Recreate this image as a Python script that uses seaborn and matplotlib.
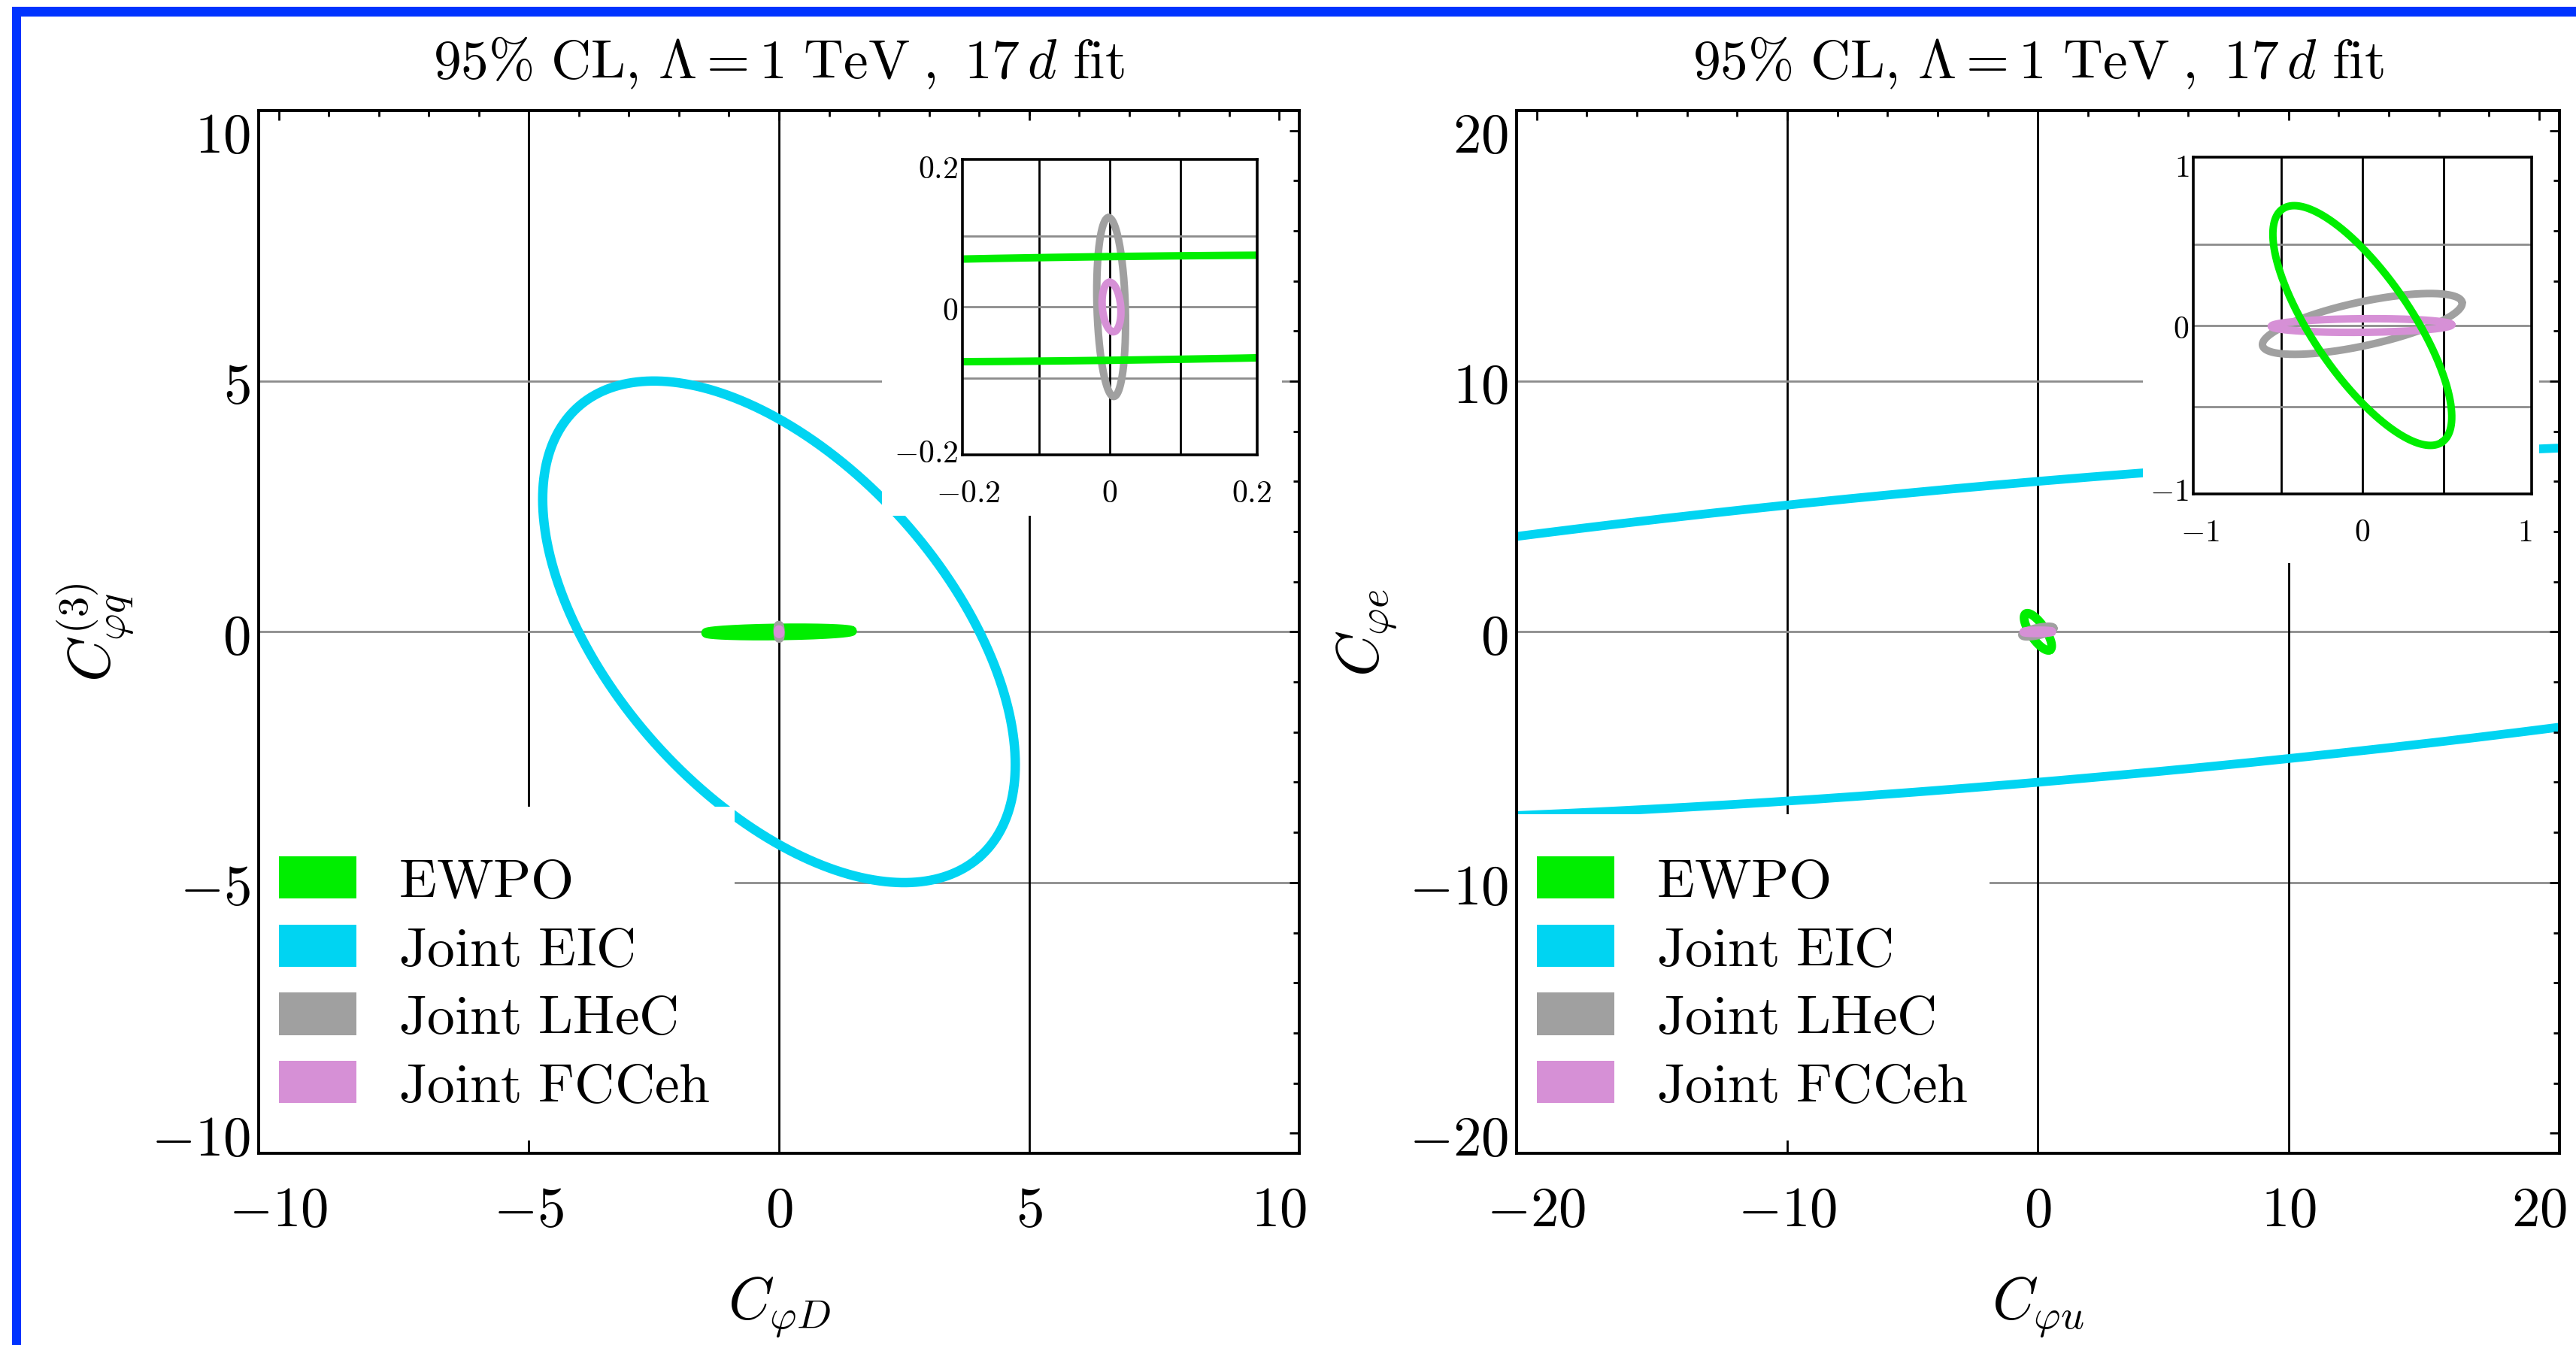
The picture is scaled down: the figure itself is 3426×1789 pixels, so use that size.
import numpy as np
import pandas as pd
import seaborn as sns
import matplotlib.pyplot as plt
from matplotlib.patches import Patch, Rectangle

sns.set_style('white')
plt.rcParams['font.family'] = ['DejaVu Serif']
plt.rcParams['mathtext.fontset'] = 'cm'
for key in ['text.color', 'axes.labelcolor', 'xtick.color', 'ytick.color', 'axes.edgecolor']:
    plt.rcParams[key] = 'black'

# 95% CL contours, read off the picture as ellipses:
# centre x, centre y, semi-major, semi-minor, tilt of the major axis (deg)
groups = ['EWPO', 'Joint EIC', 'Joint LHeC', 'Joint FCCeh']
colors = ['#00ee00', '#00d4f2', '#a0a0a0', '#d690d6']

# left panel: C_phiD (x) vs C_phiq(3) (y)
left_cx = [0.0, 0.0, 0.002, 0.0025]
left_cy = [-0.002, 0.0, 0.0, 0.0]
left_a = [1.46, 6.02, 0.126, 0.035]
left_b = [0.073, 3.33, 0.020, 0.013]
left_ang = [0.75, -48.1, 91.7, 95.0]

# right panel: C_phiu (x) vs C_phie (y)
right_cx = [0.0, 0.0, 0.0, -0.005]
right_cy = [0.0, 0.0, 0.01, 0.0]
right_a = [0.871, 55.9, 0.628, 0.555]
right_b = [0.303, 5.98, 0.135, 0.042]
right_ang = [-55.8, 4.9, 12.3, 0.5]

left_ticks = [-10, -5, 0, 5, 10]
left_grid = [-5, 0, 5]
left_inset_ticks = [-0.2, 0, 0.2]
left_inset_grid = [-0.1, 0, 0.1]
right_ticks = [-20, -10, 0, 10, 20]
right_grid = [-10, 0, 10]
right_inset_ticks = [-1, 0, 1]
right_inset_grid = [-0.5, 0, 0.5]

title = r'$95\%\ \mathrm{CL},\,\Lambda = 1\ \mathrm{TeV}\;,\ 17\,d\ \mathrm{fit}$'
FS = 27


def outline(cx, cy, a, b, ang, n=2000):
    t = np.linspace(0, 2 * np.pi, n)
    th = np.deg2rad(ang)
    x = cx + a * np.cos(t) * np.cos(th) - b * np.sin(t) * np.sin(th)
    y = cy + a * np.cos(t) * np.sin(th) + b * np.sin(t) * np.cos(th)
    return pd.DataFrame({'x': x, 'y': y})


def draw_contours(ax, cx, cy, a, b, ang, lw, order):
    for i in range(len(groups)):
        df = outline(cx[i], cy[i], a[i], b[i], ang[i])
        sns.lineplot(data=df, x='x', y='y', sort=False, estimator=None,
                     color=colors[i], lw=lw, ax=ax, zorder=order[i])


def lab(v):
    return '$%g$' % v


def setup_main(ax, ticks, grid, step):
    lim = ticks[-1] * 1.04
    ax.set_xlim(-lim, lim)
    ax.set_ylim(-lim, lim)
    for g in grid:
        ax.axvline(g, color='black', lw=1.0, zorder=1)
        ax.axhline(g, color='#8c8c8c', lw=1.0, zorder=1)
    ax.set_xticks(ticks, labels=[lab(t) for t in ticks])
    ax.set_yticks(ticks, labels=[lab(t) for t in ticks])
    minor = np.arange(ticks[0], ticks[-1] + step / 2, step)
    ax.set_xticks(minor, minor=True)
    ax.set_yticks(minor, minor=True)
    ax.tick_params(which='both', direction='in', top=True, right=True, width=1.0,
                   labelsize=FS)
    ax.tick_params(which='major', length=4.7)
    ax.tick_params(which='minor', length=3.0)
    ax.tick_params(axis='x', pad=14)
    ax.tick_params(axis='y', pad=4)
    for s in ax.spines.values():
        s.set_linewidth(1.4)
        s.set_color('black')
        s.set_zorder(6)
    ax.xaxis.set_zorder(6)
    ax.yaxis.set_zorder(6)
    ax.set_title(title, fontsize=26.5, pad=16)


def setup_inset(ax, ticks, grid):
    lim = ticks[-1] * 1.04
    ax.set_xlim(-lim, lim)
    ax.set_ylim(-lim, lim)
    for g in grid:
        ax.axvline(g, color='black', lw=1.0, zorder=1)
        ax.axhline(g, color='#8c8c8c', lw=1.0, zorder=1)
    ax.set_xticks(ticks, labels=[lab(t) for t in ticks])
    ax.set_yticks(ticks, labels=[lab(t) for t in ticks])
    ax.tick_params(direction='in', length=2.5, width=1.0, labelsize=15)
    ax.tick_params(axis='x', pad=10.5)
    ax.tick_params(axis='y', pad=2)
    ax.set_xlabel('')
    ax.set_ylabel('')
    for s in ax.spines.values():
        s.set_linewidth(1.3)
        s.set_color('black')
        s.set_zorder(6)


def cover(ax, x0, y0, x1, y1):
    ax.add_patch(Rectangle((x0, y0), x1 - x0, y1 - y0, transform=ax.transAxes,
                           facecolor='white', edgecolor='none', zorder=4))


fig = plt.figure(figsize=(17.13, 8.95), dpi=200)
ax1 = fig.add_axes([0.1004, 0.1425, 0.4040, 0.7749], zorder=0)
ax2 = fig.add_axes([0.5887, 0.1425, 0.4048, 0.7749], zorder=0)
in1 = fig.add_axes([0.3736, 0.6615, 0.1144, 0.2196], zorder=2)
in2 = fig.add_axes([0.8514, 0.6324, 0.1313, 0.2503], zorder=2)

main_order = [2, 2.2, 2.4, 2.6]
inset_order = [2.8, 2.2, 2.4, 2.6]

draw_contours(ax1, left_cx, left_cy, left_a, left_b, left_ang, 4.5, main_order)
draw_contours(ax2, right_cx, right_cy, right_a, right_b, right_ang, 4.2, main_order)
draw_contours(in1, left_cx, left_cy, left_a, left_b, left_ang, 3.6, inset_order)
draw_contours(in2, right_cx, right_cy, right_a, right_b, right_ang, 3.6, inset_order)

setup_main(ax1, left_ticks, left_grid, 1)
setup_main(ax2, right_ticks, right_grid, 2)
setup_inset(in1, left_inset_ticks, left_inset_grid)
setup_inset(in2, right_inset_ticks, right_inset_grid)

ax1.set_xlabel(r'$C_{\varphi D}$', fontsize=28, labelpad=18)
ax1.set_ylabel(r'$C_{\varphi q}^{(3)}$', fontsize=28, labelpad=7)
ax2.set_xlabel(r'$C_{\varphi u}$', fontsize=28, labelpad=18)
ax2.set_ylabel(r'$C_{\varphi e}$', fontsize=28, labelpad=5)

# white backgrounds behind the insets and the legends
cover(ax1, 0.599, 0.611, 0.983, 0.995)
cover(ax2, 0.601, 0.566, 0.9805, 0.995)
cover(ax1, 0.0, 0.012, 0.457, 0.332)
cover(ax2, 0.0, 0.012, 0.4535, 0.325)

handles = [Patch(facecolor=c, edgecolor='none', label=r'$\mathrm{%s}$' % g.replace(' ', r'\ '))
           for g, c in zip(groups, colors)]
for ax in (ax1, ax2):
    leg = ax.legend(handles=handles, loc='upper left', bbox_to_anchor=(0.0195, 0.287),
                    frameon=False, fontsize=26.5, handlelength=1.4, handleheight=0.8,
                    handletextpad=0.76, labelspacing=0.24, borderpad=0, borderaxespad=0)
    leg.set_zorder(7)

# blue frame along the top and left edge
fig.patches.append(Rectangle((16 / 3426, 1 - 23 / 1790), 1, 13 / 1790, transform=fig.transFigure,
                             facecolor='#0033ff', edgecolor='none', zorder=10))
fig.patches.append(Rectangle((16 / 3426, 0), 12 / 3426, 1 - 10 / 1790, transform=fig.transFigure,
                             facecolor='#0033ff', edgecolor='none', zorder=10))

fig.savefig('out.png', dpi=200, facecolor='white')
